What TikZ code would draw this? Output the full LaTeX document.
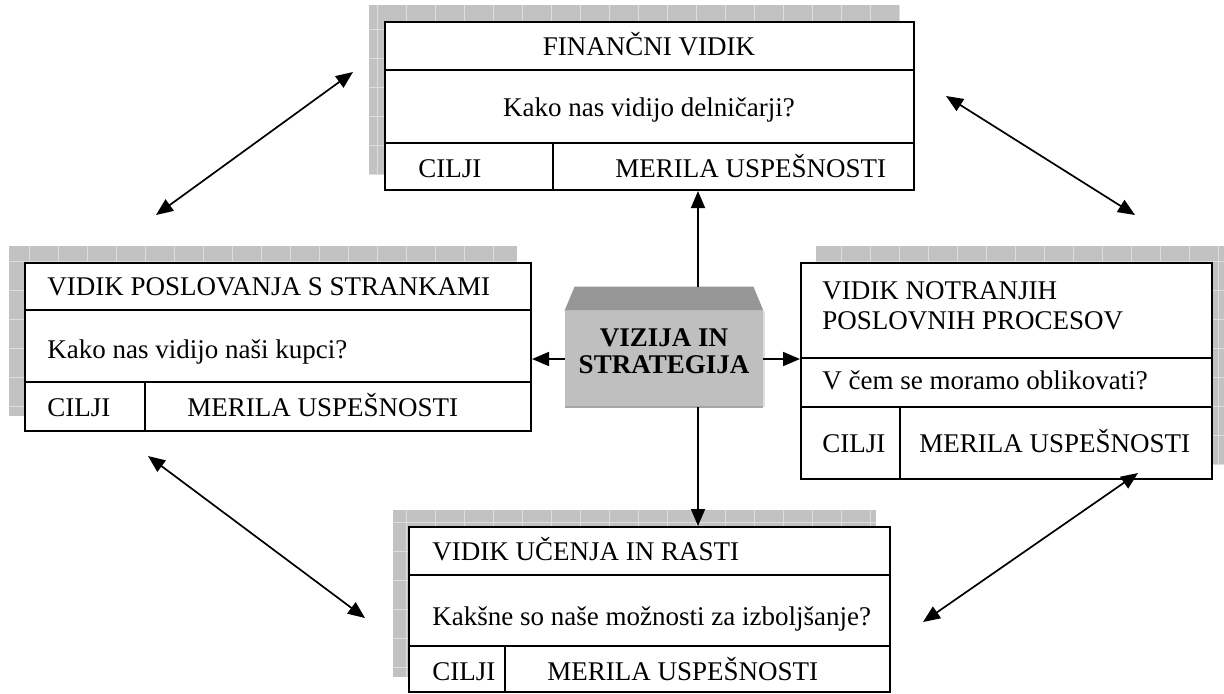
\documentclass[tikz,border=0pt]{standalone}
\usepackage{fontspec}
\setmainfont{Liberation Serif}
\usetikzlibrary{arrows.meta,positioning,backgrounds}

\tikzset{
  panel/.style={draw, line width=1pt, fill=white, inner sep=0pt},
  rule/.style={line width=1pt},
  shade/.style={fill=black!24},
  shadegrid/.style={black!13, line width=0.5pt},
  txt/.style={inner sep=0pt, anchor=base west, font=\fontsize{13.5}{15}\selectfont},
  link/.style={line width=0.85pt, -{Triangle[length=8.5pt,width=7pt]}},
  both/.style={line width=0.85pt, {Triangle[length=8.5pt,width=7pt]}-{Triangle[length=8.5pt,width=7pt]}},
}

\begin{document}
\begin{tikzpicture}[x=0.5pt,y=-0.5pt]
    \useasboundingbox (0,0) rectangle (1224,693);

    % perspective panels
    \node[panel, minimum width=264.5pt, minimum height=84pt] (fin) at (649.5,106) {};
    \node[panel, minimum width=253pt, minimum height=84pt] (kup) at (278,347) {};
    \node[panel, minimum width=205.5pt, minimum height=108pt] (proc) at (1006.5,371) {};
    \node[panel, minimum width=240.5pt, minimum height=82.5pt] (ucen) at (649.5,609.5) {};

    % shadows behind the panels
    \begin{scope}[on background layer]
      \foreach \n/\dx in {fin/-15, kup/-15, proc/16, ucen/-15}{
        \begin{scope}
          \clip ([shift={(\dx,-16)}]\n.north west) rectangle ([shift={(\dx,-16)}]\n.south east);
          \fill[shade] ([shift={(\dx,-16)}]\n.north west) rectangle ([shift={(\dx,-16)}]\n.south east);
          \draw[shadegrid, step=14.5pt] ([shift={(\dx,-16)}]\n.north west) grid ([shift={(\dx,-16)}]\n.south east);
        \end{scope}
      }
    \end{scope}

    % dividers
    \draw[rule] ([shift={(0,49)}]fin.north west) -- ([shift={(0,49)}]fin.north east);
    \draw[rule] ([shift={(0,122)}]fin.north west) -- ([shift={(0,122)}]fin.north east);
    \draw[rule] ([shift={(169,122)}]fin.north west) -- ([shift={(169,0)}]fin.south west);

    \draw[rule] ([shift={(0,48)}]kup.north west) -- ([shift={(0,48)}]kup.north east);
    \draw[rule] ([shift={(0,120)}]kup.north west) -- ([shift={(0,120)}]kup.north east);
    \draw[rule] ([shift={(121,120)}]kup.north west) -- ([shift={(121,0)}]kup.south west);

    \draw[rule] ([shift={(0,96)}]proc.north west) -- ([shift={(0,96)}]proc.north east);
    \draw[rule] ([shift={(0,145)}]proc.north west) -- ([shift={(0,145)}]proc.north east);
    \draw[rule] ([shift={(100,145)}]proc.north west) -- ([shift={(100,0)}]proc.south west);

    \draw[rule] ([shift={(0,49)}]ucen.north west) -- ([shift={(0,49)}]ucen.north east);
    \draw[rule] ([shift={(0,120)}]ucen.north west) -- ([shift={(0,120)}]ucen.north east);
    \draw[rule] ([shift={(97,120)}]ucen.north west) -- ([shift={(97,0)}]ucen.south west);

    % texts
    \node[txt, anchor=base] (fin-t) at (649,55) {FINANČNI VIDIK};
    \node[txt, anchor=base] (fin-q) at (649,116) {Kako nas vidijo delničarji?};
    \node[txt] (fin-c) at (418,177) {CILJI};
    \node[txt] (fin-m) at (615,177) {MERILA USPEŠNOSTI};

    \node[txt] (kup-t) at (47,295) {VIDIK POSLOVANJA S STRANKAMI};
    \node[txt] (kup-q) at (47,358) {Kako nas vidijo naši kupci?};
    \node[txt] (kup-c) at (47,416) {CILJI};
    \node[txt] (kup-m) at (187,416) {MERILA USPEŠNOSTI};

    \node[txt, align=left, anchor=north west] (proc-t) at (822,281) {VIDIK NOTRANJIH\\POSLOVNIH PROCESOV};
    \node[txt] (proc-q) at (822,389) {V čem se moramo oblikovati?};
    \node[txt] (proc-c) at (822,452) {CILJI};
    \node[txt] (proc-m) at (919,452) {MERILA USPEŠNOSTI};

    \node[txt] (ucen-t) at (432,560) {VIDIK UČENJA IN RASTI};
    \node[txt] (ucen-q) at (432,625) {Kakšne so naše možnosti za izboljšanje?};
    \node[txt] (ucen-c) at (432,680) {CILJI};
    \node[txt] (ucen-m) at (547,680) {MERILA USPEŠNOSTI};

    % vision block
    \node[fill=black!25, minimum width=99pt, minimum height=48pt, inner sep=0pt] (viz) at (664,359) {};
    \fill[black!41] (viz.north west) -- ([shift={(10,-24)}]viz.north west) -- ([shift={(-10,-24)}]viz.north east) -- (viz.north east) -- cycle;
    \draw[black!12, line width=1pt] ([shift={(1,0)}]viz.north east) -- ([shift={(1,0)}]viz.south east);
    \draw[black!35, line width=1pt] (viz.south west) -- (viz.south east);
    \node[inner sep=0pt, align=center, font=\fontsize{13.5}{13.5}\selectfont\bfseries] (viz-t) at (664,351) {VIZIJA IN\\STRATEGIJA};

    % links from the vision
    \coordinate (vt) at (698,287);
    \coordinate (vb) at (698,407);
    \draw[link] (vt) -- (vt |- fin.south);
    \draw[link] (vb) -- (vb |- ucen.north);
    \draw[link] (viz.west) -- (viz.west -| kup.east);
    \draw[link] (viz.east) -- (viz.east -| proc.west);

    % links between the panels
    \coordinate (fk1) at (156,215);
    \coordinate (fk2) at (353,72);
    \coordinate (fp1) at (946,96);
    \coordinate (fp2) at (1135,215);
    \coordinate (ku1) at (148,456);
    \coordinate (ku2) at (365,618);
    \coordinate (pu1) at (923,622);
    \coordinate (pu2) at (1138,473);
    \draw[both] (fk1) -- (fk2);
    \draw[both] (fp1) -- (fp2);
    \draw[both] (ku1) -- (ku2);
    \draw[both] (pu1) -- (pu2);

\end{tikzpicture}
\end{document}
